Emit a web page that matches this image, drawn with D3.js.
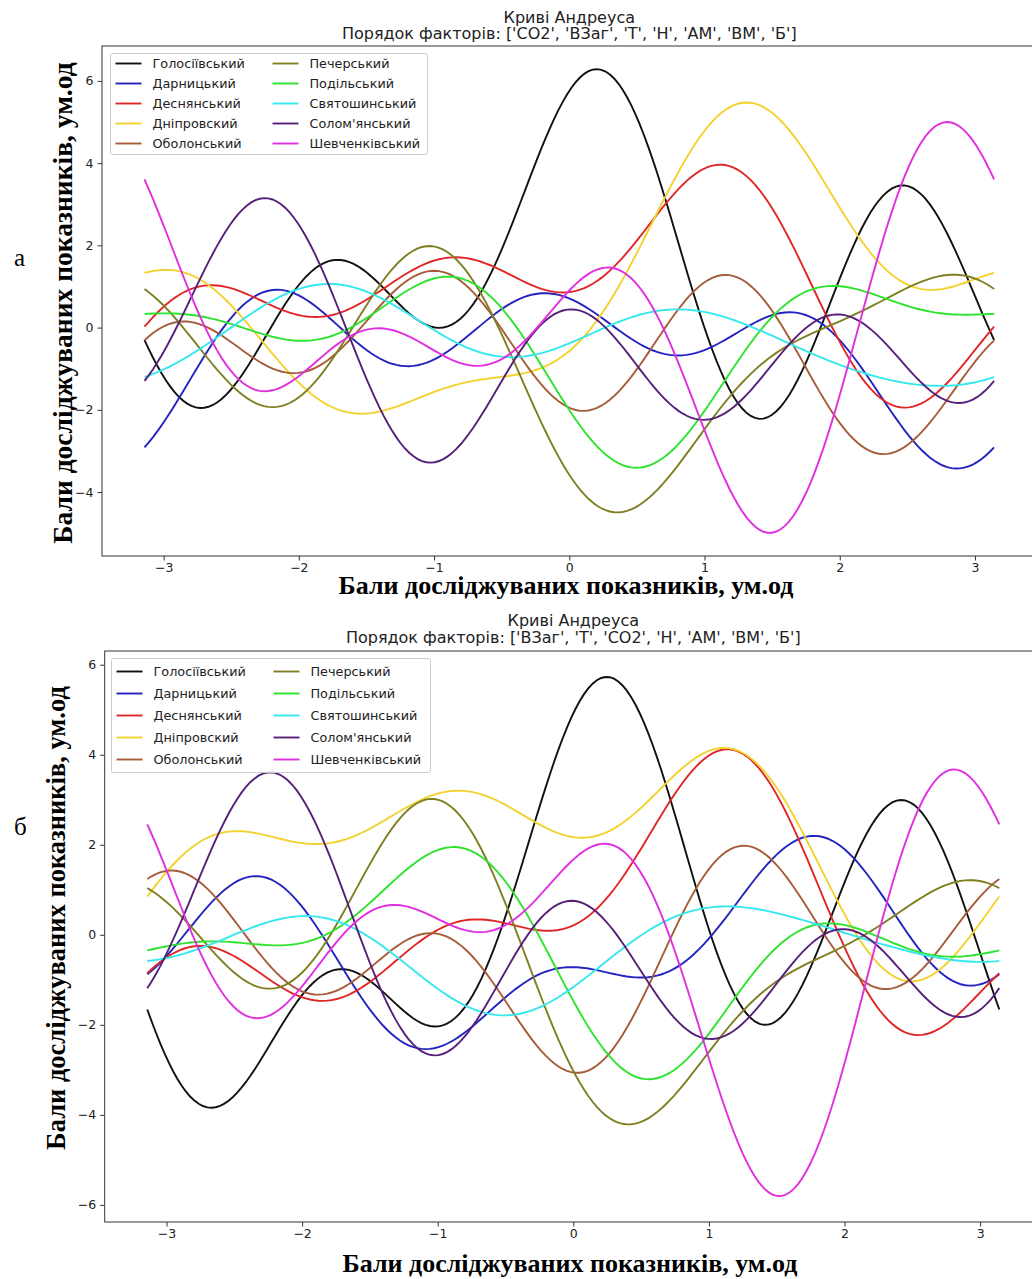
<!DOCTYPE html>
<html><head><meta charset="utf-8">
<script src="https://cdn.jsdelivr.net/npm/d3@7"></script>
<style>body{margin:0;background:#fff} svg{display:block}</style>
</head><body>
<svg id="chart" width="1032" height="1279"></svg>
<script>
const districts = ["Голосіївський", "Дарницький", "Деснянський", "Дніпровский", "Оболонський",
    "Печерський", "Подільський", "Святошинський", "Солом'янський", "Шевченківський"]
const colors = ["#111111", "#2323c0", "#e02626", "#f2d22e", "#a65c38",
    "#7f7f22", "#2ee32e", "#35e8ee", "#56207a", "#e02ee0"]

// standardised factor values per district (same order as districts)
const CO2  = [1.79, -0.78, 1.39, 1.30, -0.82, -1.06, -0.39, -0.33, -0.76, -0.18]
const VZag = [0.24, -0.35, 0.31, 2.90, -0.51, -0.60, -0.49, -0.44, -0.46, -0.45]
const T    = [1.53, 0.95, 1.28, -0.31, 0.51, -1.29, -1.00, 0.37, -0.86, -1.14]
const H    = [-0.53, 0.56, 1.05, 0.91, 0.41, -1.85, -1.21, 0.62, 1.07, -0.95]
const AM   = [1.46, -0.55, -0.54, -0.54, -0.55, -0.57, -0.56, -0.56, 0.11, 2.38]
const BM   = [1.94, -0.71, -0.67, -0.65, -0.59, -0.25, -0.69, 0.19, -0.49, 1.93]
const Bb   = [1.50, 0.86, -0.86, -0.64, -1.33, -0.97, -0.17, 0.04, 1.73, -0.21]

const factorValues = {"CO2": CO2, "ВЗаг": VZag, "T": T, "H": H, "AM": AM, "BM": BM, "Б": Bb}
const factorsA = ["CO2", "ВЗаг", "T", "H", "AM", "BM", "Б"]
const factorsB = ["ВЗаг", "T", "CO2", "H", "AM", "BM", "Б"]
const xTicks = [-3, -2, -1, 0, 1, 2, 3]

const P = Math.PI, S2 = Math.SQRT2

// Andrews curve: x1/sqrt2 + x2 sin t + x3 cos t + x4 sin 2t + ...
function andrews(vec, t) {
    return vec[0]/S2 + vec[1]*Math.sin(t) + vec[2]*Math.cos(t) + vec[3]*Math.sin(2*t) +
        vec[4]*Math.cos(2*t) + vec[5]*Math.sin(3*t) + vec[6]*Math.cos(3*t)
}

const svg = d3.select("#chart")
const tSamples = d3.range(200).map(i => -P + 2*P*i/199)
const minus = d => (d < 0 ? "\u2212" + (-d) : "" + d)
const label = "Бали досліджуваних показників, ум.од"

function drawPanel(cfg) {
    const vecs = districts.map((d, i) => cfg.order.map(f => factorValues[f][i]))
    const series = vecs.map(v => tSamples.map(t => [t, andrews(v, t)]))
    const yMin = d3.min(series, s => d3.min(s, d => d[1])), yMax = d3.max(series, s => d3.max(s, d => d[1]))
    const yPad = (yMax - yMin)*0.05, xPad = 2*P*0.05
    const x = d3.scaleLinear().domain([-P - xPad, P + xPad]).range([cfg.left, cfg.right])
    const y = d3.scaleLinear().domain([yMin - yPad, yMax + yPad]).range([cfg.bottom, cfg.top])
    const g = svg.append("g")

    const line = d3.line().x(d => x(d[0])).y(d => y(d[1]))
    g.append("g").selectAll("path").data(series).enter().append("path")
        .attr("d", line).attr("fill", "none")
        .attr("stroke", (d, i) => colors[i]).attr("stroke-width", 1.9)

    g.append("rect").attr("x", cfg.left).attr("y", cfg.top)
        .attr("width", cfg.right - cfg.left).attr("height", cfg.bottom - cfg.top)
        .attr("fill", "none").attr("stroke", "#333").attr("stroke-width", 1)

    const xa = g.append("g").attr("transform", `translate(0,${cfg.bottom})`)
        .call(d3.axisBottom(x).tickValues(xTicks).tickFormat(minus).tickSize(4.5).tickPadding(3))
    const ya = g.append("g").attr("transform", `translate(${cfg.left},0)`)
        .call(d3.axisLeft(y).tickValues(cfg.yTicks).tickFormat(minus).tickSize(4.5).tickPadding(4))
    ;[xa, ya].forEach(a => {
        a.select(".domain").remove()
        a.selectAll("line").attr("stroke", "#333")
        a.selectAll("text").attr("font-family", "DejaVu Sans").attr("font-size", 12.5).attr("fill", "#222")
    })

    // title
    const cx = (cfg.left + cfg.right)/2
    g.append("text").attr("x", cx).attr("y", cfg.top + cfg.titleDy[0]).attr("text-anchor", "middle")
        .attr("font-family", "DejaVu Sans").attr("font-size", 16).attr("fill", "#222").text("Криві Андреуса")
    g.append("text").attr("x", cx).attr("y", cfg.top + cfg.titleDy[1]).attr("text-anchor", "middle")
        .attr("font-family", "DejaVu Sans").attr("font-size", 16).attr("fill", "#222")
        .text("Порядок факторів: [" + cfg.order.map(f => "'" + f + "'").join(", ") + "]")

    // legend, two columns
    const lg = cfg.legend
    g.append("rect").attr("x", lg.x).attr("y", lg.y).attr("width", lg.w).attr("height", lg.h)
        .attr("rx", 2).attr("fill", "#fff").attr("fill-opacity", 0.8).attr("stroke", "#ccc")
    districts.forEach((name, i) => {
        const col = Math.floor(i/5), row = i % 5
        const lx = lg.x + 5 + col*lg.colW, ly = lg.y + lg.row0 + row*lg.step
        g.append("line").attr("x1", lx).attr("x2", lx + 26).attr("y1", ly).attr("y2", ly)
            .attr("stroke", colors[i]).attr("stroke-width", 1.9)
        g.append("text").attr("x", lx + 37).attr("y", ly + 4.5)
            .attr("font-family", "DejaVu Sans").attr("font-size", 12.8).attr("fill", "#222").text(name)
    })

    // axis labels and panel letter
    g.append("text").attr("x", cfg.xLab[0]).attr("y", cfg.xLab[1]).attr("text-anchor", "middle")
        .attr("font-family", "Liberation Serif").attr("font-weight", "bold").attr("font-size", 26).text(label)
    g.append("text").attr("transform", `translate(${cfg.yLab[0]},${cfg.yLab[1]}) rotate(-90)`).attr("text-anchor", "middle")
        .attr("font-family", "Liberation Serif").attr("font-weight", "bold").attr("font-size", cfg.yLabSize).text(label)
    g.append("text").attr("x", 14).attr("y", cfg.letterY)
        .attr("font-family", "Liberation Serif").attr("font-size", 25).text(cfg.letter)
}

drawPanel({order: factorsA, left: 102, right: 1036.6, top: 46, bottom: 556, titleDy: [-23.5, -7.5],
    yTicks: [-4, -2, 0, 2, 4, 6], xLab: [566, 594], yLab: [72, 303], yLabSize: 27.5, letter: "а", letterY: 266,
    legend: {x: 110.5, y: 53.5, w: 317, h: 101, row0: 10, step: 20, colW: 157}})
drawPanel({order: factorsB, left: 104.7, right: 1041.9, top: 651, bottom: 1222, titleDy: [-25.5, -8.5],
    yTicks: [-6, -4, -2, 0, 2, 4, 6], xLab: [570, 1272], yLab: [65, 918], yLabSize: 26.5, letter: "б", letterY: 835,
    legend: {x: 111.5, y: 658.5, w: 319, h: 114, row0: 13, step: 22, colW: 157}})
</script>
</body></html>
